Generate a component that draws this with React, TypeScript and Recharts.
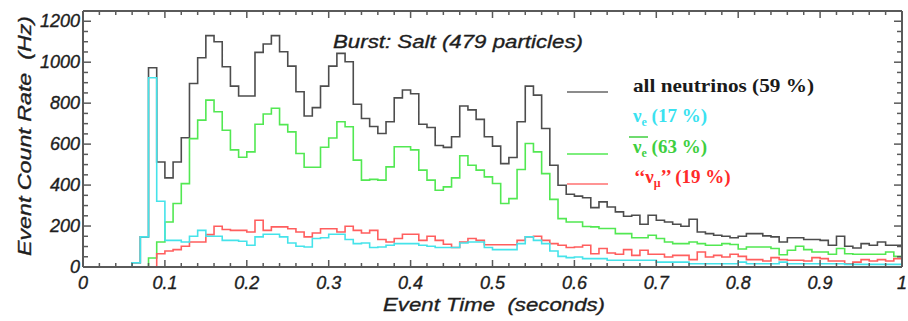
import React from 'react';
import { LineChart, Line, XAxis, YAxis } from 'recharts';

// 0.01 s bins from 0 to 1 s (bin start times)
const binStarts: number[] = Array.from({ length: 100 }, (_, i) => i / 100);

const allNeutrinos: number[] = [
  0, 0, 0, 0, 0, 0, 21, 147, 973, 513,
  435, 513, 631, 896, 1022, 1130, 1100, 978, 883, 835,
  835, 1048, 1089, 1130, 1051, 981, 856, 737, 778, 883,
  981, 1043, 1002, 795, 725, 686, 652, 709, 826, 864,
  846, 697, 681, 593, 584, 636, 786, 767, 721, 636,
  590, 505, 535, 709, 883, 839, 676, 497, 399, 355,
  346, 338, 290, 318, 293, 269, 248, 253, 209, 253,
  228, 220, 209, 199, 233, 171, 163, 155, 150, 143,
  150, 163, 163, 152, 147, 122, 143, 143, 134, 134,
  130, 106, 150, 101, 93, 114, 106, 122, 106, 106,
];

const nuE: number[] = [
  0, 0, 0, 0, 0, 0, 21, 147, 924, 321,
  130, 130, 122, 150, 179, 150, 150, 130, 130, 126,
  106, 147, 160, 160, 147, 117, 101, 98, 139, 143,
  160, 160, 134, 114, 117, 95, 98, 106, 114, 114,
  114, 106, 101, 95, 95, 95, 117, 122, 122, 95,
  85, 85, 85, 114, 147, 130, 114, 78, 52, 46,
  49, 41, 41, 41, 33, 33, 33, 33, 33, 33,
  24, 24, 24, 24, 16, 16, 16, 16, 16, 16,
  24, 16, 16, 16, 16, 24, 16, 16, 16, 16,
  16, 16, 16, 13, 13, 13, 13, 13, 13, 13,
];

const nuEBar: number[] = [
  0, 0, 0, 0, 0, 0, 0, 0, 44, 122,
  220, 310, 407, 627, 717, 815, 758, 668, 572, 536,
  562, 697, 747, 775, 695, 660, 554, 487, 487, 585,
  630, 709, 685, 522, 424, 428, 424, 489, 587, 587,
  572, 473, 424, 375, 391, 435, 543, 497, 473, 440,
  408, 310, 334, 476, 603, 562, 456, 330, 236, 220,
  220, 198, 196, 188, 188, 163, 163, 143, 143, 155,
  139, 122, 114, 114, 122, 114, 106, 106, 114, 110,
  88, 98, 98, 98, 90, 60, 82, 101, 85, 73,
  73, 62, 90, 65, 62, 62, 62, 62, 73, 52,
];

const nuMu: number[] = [
  0, 0, 0, 0, 0, 0, 0, 0, 0, 65,
  78, 85, 101, 122, 122, 158, 199, 183, 179, 179,
  171, 228, 179, 196, 196, 187, 171, 147, 166, 187,
  187, 171, 199, 179, 166, 179, 134, 122, 139, 160,
  160, 130, 150, 130, 111, 95, 122, 139, 130, 109,
  109, 109, 109, 130, 147, 150, 130, 114, 106, 95,
  98, 106, 65, 90, 68, 62, 85, 57, 82, 62,
  62, 49, 57, 57, 36, 73, 49, 57, 49, 62,
  52, 36, 36, 29, 46, 36, 33, 33, 29, 46,
  41, 29, 29, 16, 24, 36, 29, 36, 29, 41,
];

const xTicks: number[] = [
  0, 0.02, 0.04, 0.06, 0.08, 0.1, 0.12, 0.14, 0.16, 0.18,
  0.2, 0.22, 0.24, 0.26, 0.28, 0.3, 0.32, 0.34, 0.36, 0.38,
  0.4, 0.42, 0.44, 0.46, 0.48, 0.5, 0.52, 0.54, 0.56, 0.58,
  0.6, 0.62, 0.64, 0.66, 0.68, 0.7, 0.72, 0.74, 0.76, 0.78,
  0.8, 0.82, 0.84, 0.86, 0.88, 0.9, 0.92, 0.94, 0.96, 0.98, 1,
];
const yTicks: number[] = [
  0, 50, 100, 150, 200, 250, 300, 350, 400, 450, 500, 550, 600,
  650, 700, 750, 800, 850, 900, 950, 1000, 1050, 1100, 1150, 1200, 1250,
];

const tableData = (() => {
  const rows = binStarts.map((t, i) => ({
    t,
    all: allNeutrinos[i],
    e: nuE[i],
    ebar: nuEBar[i],
    mu: nuMu[i],
  }));
  const last = rows[rows.length - 1];
  rows.push({ ...last, t: 1 });
  return rows;
})();

const AXIS = '#5a5a5a';
const TICK_FONT = "'Liberation Sans', Arial, sans-serif";
const TEXT_FILL = '#1e1e1e';

const isMajorX = (v: number) => Math.abs(v * 10 - Math.round(v * 10)) < 1e-6;
const isMajorY = (v: number) => v % 200 === 0 && v <= 1200;
const fmtX = (v: number) => (v === 0 ? '0' : v === 1 ? '1' : String(Math.round(v * 10) / 10));

const BottomTick = (props: any) => {
  const { x, y, payload } = props;
  const v = payload.value as number;
  const major = isMajorX(v);
  return (
    <g>
      <line x1={x} x2={x} y1={y} y2={y - (major ? 7 : 4)} stroke={AXIS} strokeWidth={1.5} />
      {major && (
        <text x={x} y={y + 22} textAnchor="middle" fontFamily={TICK_FONT} fontStyle="italic" fontSize={18} fill={TEXT_FILL} stroke={TEXT_FILL} strokeWidth={0.35}>
          {fmtX(v)}
        </text>
      )}
    </g>
  );
};

const TopTick = (props: any) => {
  const { x, y, payload } = props;
  const major = isMajorX(payload.value);
  return <line x1={x} x2={x} y1={y} y2={y + (major ? 7 : 4)} stroke={AXIS} strokeWidth={1.5} />;
};

const LeftTick = (props: any) => {
  const { x, y, payload } = props;
  const v = payload.value as number;
  const major = isMajorY(v);
  return (
    <g>
      <line x1={x} x2={x + (major ? 8 : 5)} y1={y} y2={y} stroke={AXIS} strokeWidth={1.5} />
      {major && (
        <text x={x - 3} y={y + 6} textAnchor="end" fontFamily={TICK_FONT} fontStyle="italic" fontSize={18} fill={TEXT_FILL} stroke={TEXT_FILL} strokeWidth={0.35}>
          {v}
        </text>
      )}
    </g>
  );
};

const RightTick = (props: any) => {
  const { x, y, payload } = props;
  const major = isMajorY(payload.value);
  return <line x1={x} x2={x - (major ? 8 : 5)} y1={y} y2={y} stroke={AXIS} strokeWidth={1.5} />;
};

const LABEL_STYLE: React.CSSProperties = { whiteSpace: 'pre' };
const SERIF = "'Liberation Serif', 'Times New Roman', serif";

export default function App() {
  return (
    <div style={{ position: 'absolute', left: 0, top: 0, width: 908, height: 321, background: '#fff' }}>
      <LineChart width={908} height={321} data={tableData} margin={{ top: 10, right: 5, bottom: 24, left: 23 }}>
        <XAxis
          dataKey="t"
          type="number"
          domain={[0, 1]}
          ticks={xTicks}
          interval={0}
          allowDataOverflow
          height={30}
          tickSize={0}
          tickMargin={0}
          tickLine={false}
          axisLine={{ stroke: AXIS, strokeWidth: 2 }}
          tick={<BottomTick />}
        />
        <XAxis
          xAxisId="top"
          orientation="top"
          dataKey="t"
          type="number"
          domain={[0, 1]}
          ticks={xTicks}
          interval={0}
          allowDataOverflow
          height={1}
          tickSize={0}
          tickMargin={0}
          tickLine={false}
          axisLine={{ stroke: AXIS, strokeWidth: 2 }}
          tick={<TopTick />}
        />
        <YAxis
          type="number"
          domain={[0, 1250]}
          ticks={yTicks}
          interval={0}
          allowDataOverflow
          width={60}
          tickSize={0}
          tickMargin={0}
          tickLine={false}
          axisLine={{ stroke: AXIS, strokeWidth: 2 }}
          tick={<LeftTick />}
        />
        <YAxis
          yAxisId="right"
          orientation="right"
          type="number"
          domain={[0, 1250]}
          ticks={yTicks}
          interval={0}
          allowDataOverflow
          width={1}
          tickSize={0}
          tickMargin={0}
          tickLine={false}
          axisLine={{ stroke: AXIS, strokeWidth: 2 }}
          tick={<RightTick />}
        />
        <Line xAxisId="top" yAxisId="right" type="stepAfter" dataKey="all" stroke="none" strokeOpacity={0} dot={false} activeDot={false} isAnimationActive={false} legendType="none" />
        <Line type="stepAfter" dataKey="all" stroke="#4d4d4d" strokeWidth={1.6} dot={false} isAnimationActive={false} />
        <Line type="stepAfter" dataKey="ebar" stroke="#52e852" strokeWidth={1.6} dot={false} isAnimationActive={false} />
        <Line type="stepAfter" dataKey="mu" stroke="#ff5e5e" strokeWidth={1.6} dot={false} isAnimationActive={false} />
        <Line type="stepAfter" dataKey="e" stroke="#45e3ea" strokeWidth={1.6} dot={false} isAnimationActive={false} />
      </LineChart>
      <svg width={908} height={321} style={{ position: 'absolute', left: 0, top: 0, pointerEvents: 'none' }}>
        <text x={458} y={48} textAnchor="middle" fontFamily={TICK_FONT} fontStyle="italic" fontSize={19} fill={TEXT_FILL} stroke={TEXT_FILL} strokeWidth={0.35} textLength={250} lengthAdjust="spacingAndGlyphs">
          Burst: Salt (479 particles)
        </text>
        <text x={494} y={311} textAnchor="middle" fontFamily={TICK_FONT} fontStyle="italic" fontSize={19} fill={TEXT_FILL} stroke={TEXT_FILL} strokeWidth={0.35} style={LABEL_STYLE} textLength={222} lengthAdjust="spacingAndGlyphs">
          Event Time  (seconds)
        </text>
        <text x={0} y={0} transform="translate(31,136) rotate(-90)" textAnchor="middle" fontFamily={TICK_FONT} fontStyle="italic" fontSize={19} fill={TEXT_FILL} stroke={TEXT_FILL} strokeWidth={0.35} style={LABEL_STYLE} textLength={240} lengthAdjust="spacingAndGlyphs">
          Event Count Rate  (Hz)
        </text>

        {/* legend */}
        <line x1={567} x2={608} y1={92} y2={92} stroke="#666" strokeWidth={1.6} />
        <line x1={567} x2={608} y1={154} y2={154} stroke="#52e852" strokeWidth={1.6} />
        <line x1={567} x2={608} y1={184} y2={184} stroke="#ff7070" strokeWidth={1.6} />

        <text x={633} y={92} fontFamily={SERIF} fontWeight="bold" fontSize={19} fill="#1a1a1a" style={LABEL_STYLE} textLength={181} lengthAdjust="spacingAndGlyphs">
          all neutrinos (59 %)
        </text>
        <text x={633} y={122} fontFamily={SERIF} fontWeight="bold" fontSize={19} fill="#3ae2f0" style={LABEL_STYLE}>
          ν<tspan fontSize={12} dy={4}>e</tspan><tspan dy={-4}> (17 %)</tspan>
        </text>
        <line x1={629} x2={648} y1={137} y2={137} stroke="#3fcf3f" strokeWidth={1.5} />
        <text x={633} y={153} fontFamily={SERIF} fontWeight="bold" fontSize={19} fill="#3fcf3f" style={LABEL_STYLE}>
          ν<tspan fontSize={12} dy={4}>e</tspan><tspan dy={-4}> (63 %)</tspan>
        </text>
        <text x={634} y={183} fontFamily={SERIF} fontWeight="bold" fontSize={19} fill="#ff2a2a" style={LABEL_STYLE}>
          ‘‘ν<tspan fontSize={12} dy={4}>μ</tspan><tspan dy={-4}>’’ (19 %)</tspan>
        </text>
      </svg>
    </div>
  );
}
